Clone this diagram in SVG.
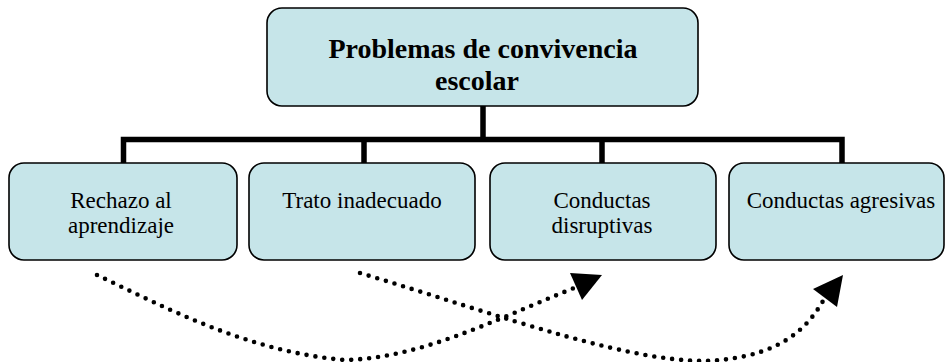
<svg xmlns="http://www.w3.org/2000/svg" width="947" height="362" viewBox="0 0 947 362">
<style>
.box{fill:#C6E5E9;stroke:#000;stroke-width:1.6}
.t{font-family:'Liberation Serif','DejaVu Serif',serif;font-size:23px;fill:#000;text-anchor:middle}
.tb{font-family:'Liberation Serif','DejaVu Serif',serif;font-size:28px;font-weight:bold;fill:#000;text-anchor:middle}
.bar{fill:none;stroke:#000;stroke-width:5.5}
.dot{fill:none;stroke:#000;stroke-width:4.6;stroke-linecap:round;stroke-dasharray:0 9}
.head{fill:#000}
</style>
<rect width="947" height="362" fill="#fff"/>
<g id="connectors">
<path class="bar" d="M483,106 V139.5 M123.5,163 V139.5 H842 V163 M364,139.5 V163 M602,139.5 V163"/>
<path class="dot" d="M97,275 C170,310 250,352 345,360 C420,358 490,322 574,288"/>
<polygon class="head" points="602,275 570,273 582,300"/>
<path class="dot" d="M360,273 C500,315 640,368 720,360 C780,354 806,330 823,301"/>
<polygon class="head" points="843,275 813,289 837,307"/>
</g>
<g id="root">
<rect class="box" x="267" y="8" width="431" height="98" rx="15"/>
<text class="tb" x="483" y="58">Problemas de convivencia</text>
<text class="tb" x="477" y="90">escolar</text>
</g>
<g id="rechazo">
<rect class="box" x="9" y="163" width="228" height="97" rx="15"/>
<text class="t" x="121" y="208">Rechazo al</text>
<text class="t" x="121" y="233">aprendizaje</text>
</g>
<g id="trato">
<rect class="box" x="249" y="163" width="226" height="97" rx="15"/>
<text class="t" x="362" y="208">Trato inadecuado</text>
</g>
<g id="disruptivas">
<rect class="box" x="490" y="163" width="226" height="97" rx="15"/>
<text class="t" x="602" y="208">Conductas</text>
<text class="t" x="602" y="233">disruptivas</text>
</g>
<g id="agresivas">
<rect class="box" x="729" y="163" width="215" height="97" rx="15"/>
<text class="t" x="841" y="208">Conductas agresivas</text>
</g>
</svg>
